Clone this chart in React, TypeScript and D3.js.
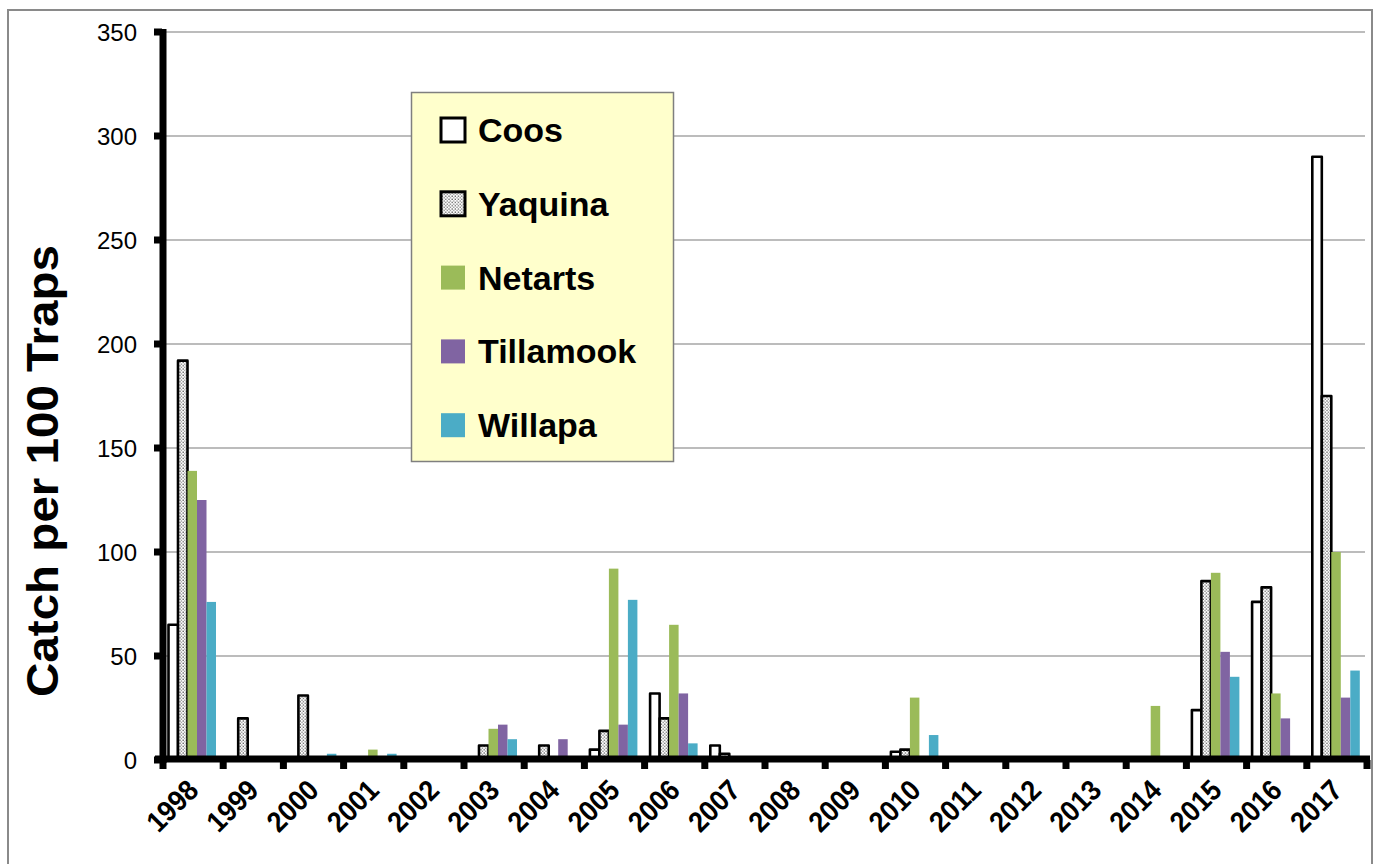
import React from "react";
import * as d3 from "d3";

const years = ["1998","1999","2000","2001","2002","2003","2004","2005","2006","2007","2008","2009","2010","2011","2012","2013","2014","2015","2016","2017"];
const seriesNames = ["Coos","Yaquina","Netarts","Tillamook","Willapa"];
const coos      = [65,0,0,0,0,0,0,5,32,7,0,0,4,0,0,0,0,24,76,290];
const yaquina   = [192,20,31,0,0,7,7,14,20,3,0,0,5,0,0,0,1,86,83,175];
const netarts   = [139,0,0,5,0,15,0,92,65,0,0,0,30,0,0,0,26,90,32,100];
const tillamook = [125,0,0,0,0,17,10,17,32,0,0,0,0,0,0,0,0,52,20,30];
const willapa   = [76,0,3,3,0,10,0,77,8,0,0,0,12,0,0,0,0,40,0,43];
const yTicks = [0,50,100,150,200,250,300,350];

const seriesValues = [coos, yaquina, netarts, tillamook, willapa];
const fills = ["#FFFFFF", "url(#dots)", "#9BBB59", "#8064A2", "#4BACC6"];
const outlined = [true, true, false, false, false];

export default function App() {
  const W = 1380, H = 864;
  const left = 163, right = 1367, top = 32, zero = 760;
  const x0 = d3.scaleBand<string>().domain(years).range([left, right]).padding(0);
  const x1 = d3.scaleBand<string>().domain(seriesNames).range([5.5, 53]).padding(0);
  const y = d3.scaleLinear().domain([0, 350]).range([zero, top]);
  const bw = x1.bandwidth();
  const font = "'Liberation Sans', Arial, sans-serif";

  return (
    <svg width={W} height={H} style={{ position: "absolute", left: 0, top: 0, background: "#fff" }}
      xmlns="http://www.w3.org/2000/svg">
      <defs>
        <pattern id="dots" width="3.2" height="3.2" patternUnits="userSpaceOnUse">
          <rect width="3.2" height="3.2" fill="#fff" />
          <rect x="0.4" y="0.4" width="1.1" height="1.1" fill="#222" />
          <rect x="2.0" y="2.0" width="1.1" height="1.1" fill="#555" />
        </pattern>
      </defs>
      <rect x={8} y={10} width={1364} height={880} fill="#fff" stroke="#8a8a8a" strokeWidth={2} />

      {/* gridlines */}
      {yTicks.filter(t => t > 0).map(t => (
        <line key={t} x1={left} x2={right - 2} y1={y(t)} y2={y(t)} stroke="#a6a6a6" strokeWidth={1.3} />
      ))}

      {/* bars */}
      {years.map((yr, i) => (
        <g key={yr} transform={`translate(${x0(yr)},0)`}>
          {seriesNames.map((s, j) => {
            const v = seriesValues[j][i];
            if (!v) return null;
            const bx = x1(s)!;
            const by = y(v);
            return (
              <rect key={s} x={bx} y={by} width={bw} height={zero - by}
                fill={fills[j]}
                stroke={outlined[j] ? "#000" : "none"}
                strokeWidth={outlined[j] ? 2.6 : 0}
                strokeLinejoin="round" />
            );
          })}
        </g>
      ))}

      {/* y axis */}
      <rect x={159.5} y={top - 3} width={7} height={zero - top + 6} fill="#000" />
      {yTicks.map(t => (
        <rect key={"yt" + t} x={154} y={y(t) - 3.5} width={8} height={7} fill="#000" />
      ))}
      {yTicks.map(t => (
        <text key={"yl" + t} x={137} y={y(t)} textAnchor="end" dominantBaseline="central"
          fontFamily={font} fontSize={24} fill="#000">{t}</text>
      ))}

      {/* x axis */}
      <rect x={155} y={zero - 4.5} width={right - 155 + 3} height={7} fill="#000" />
      {d3.range(years.length + 1).map(k => {
        const xx = left + k * x0.step();
        return <rect key={"xt" + k} x={xx - 3.5} y={zero} width={7} height={9} fill="#000" />;
      })}
      {years.map(yr => {
        const cx = x0(yr)! + x0.bandwidth() / 2 + 7;
        const ly = 792;
        return (
          <text key={"xl" + yr} x={cx} y={ly} textAnchor="end"
            transform={`rotate(-45 ${cx} ${ly})`}
            fontFamily={font} fontSize={29} fontWeight="bold" fill="#000"
            textLength={59} lengthAdjust="spacingAndGlyphs">{yr}</text>
        );
      })}

      {/* y title */}
      <text x={0} y={0} transform="translate(58,471) rotate(-90)" textAnchor="middle"
        fontFamily={font} fontSize={44} fontWeight="bold" fill="#000"
        textLength={452} lengthAdjust="spacingAndGlyphs">Catch per 100 Traps</text>

      {/* legend */}
      <rect x={411.5} y={92.5} width={262} height={369} fill="#FFFFCC" stroke="#7f7f7f" strokeWidth={1.5} />
      {seriesNames.map((s, j) => {
        const cy = 130 + j * 73.8;
        return (
          <g key={"lg" + s}>
            <rect x={441} y={cy - 12} width={24} height={24}
              fill={fills[j]}
              stroke={outlined[j] ? "#000" : "none"}
              strokeWidth={outlined[j] ? 3 : 0} />
            <text x={478} y={cy + 12} fontFamily={font} fontSize={34} fontWeight="bold" fill="#000">{s}</text>
          </g>
        );
      })}
    </svg>
  );
}
